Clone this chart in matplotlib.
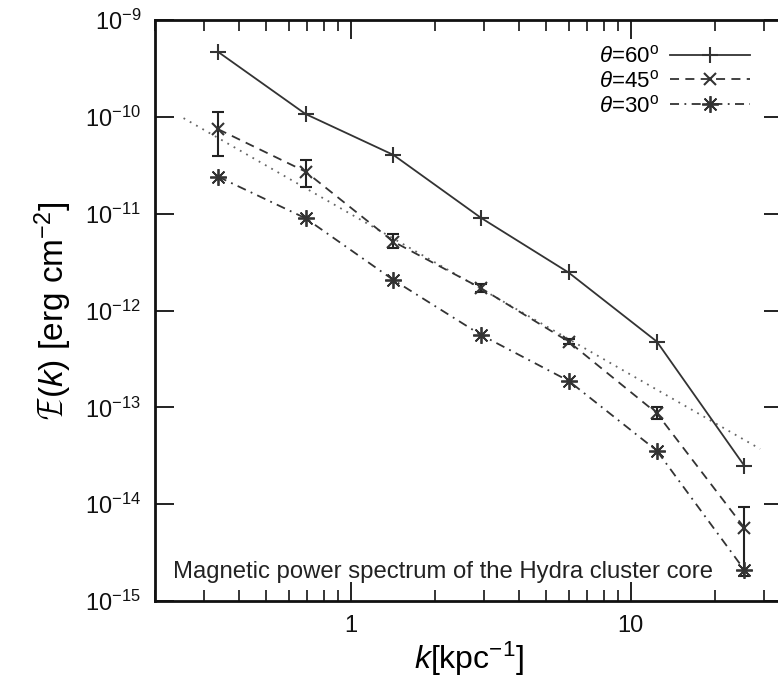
import matplotlib
matplotlib.use("Agg")
import matplotlib.pyplot as plt
import matplotlib.ticker as ticker
import numpy as np

plt.rcParams['font.family'] = 'Liberation Sans'
plt.rcParams['mathtext.fontset'] = 'custom'
plt.rcParams['mathtext.rm'] = 'Liberation Sans'
plt.rcParams['mathtext.it'] = 'Liberation Sans:italic'
plt.rcParams['axes.unicode_minus'] = False

# волновые числа k [kpc^-1]
k = [0.336, 0.69, 1.42, 2.92, 6.0, 12.4, 25.5]

# спектры для трёх углов
E60 = [4.69e-10, 1.07e-10, 4.05e-11, 9.06e-12, 2.47e-12, 4.78e-13, 2.48e-14]
E45 = [7.46e-11, 2.72e-11, 5.15e-12, 1.70e-12, 4.78e-13, 8.69e-14, 5.68e-15]
E30 = [2.41e-11, 8.97e-12, 2.07e-12, 5.60e-13, 1.88e-13, 3.57e-14, 2.09e-15]

# границы погрешностей для 45 градусов
E45_hi = [1.13e-10, 3.60e-11, 6.18e-12, 1.86e-12, 5.10e-13, 9.98e-14, 9.42e-15]
E45_lo = [3.96e-11, 1.90e-11, 4.43e-12, 1.54e-12, 4.48e-13, 7.58e-14, 1.81e-15]

# колмогоровская прямая (концы отрезка)
k_kol = [0.253, 29.0]
E_kol = [9.7e-11, 3.72e-14]

labels = [r'$\mathit{\theta}$=60$^{\rm o}$', r'$\mathit{\theta}$=45$^{\rm o}$',
          r'$\mathit{\theta}$=30$^{\rm o}$']

col = '#333333'

fig = plt.figure(figsize=(7.78, 6.86), dpi=100)
ax = fig.add_axes([0.1992, 0.1239, 0.8072, 0.8469])

ax.set_xscale('log')
ax.set_yscale('log')
ax.set_xlim(0.2, 35)
ax.set_ylim(1e-15, 1e-9)

ax.plot(k_kol, E_kol, linestyle=(0, (1, 3)), color='#666666', linewidth=1.3)

ax.plot(k, E60, color=col, linestyle='-', linewidth=1.3, marker='+',
        markersize=12, markeredgewidth=1.5, label=labels[0])

err = [np.array(E45) - np.array(E45_lo), np.array(E45_hi) - np.array(E45)]
ax.errorbar(k, E45, yerr=err, fmt='none', ecolor='#222222', elinewidth=1.5,
            capsize=4.5, capthick=1.5)
ax.plot(k, E45, color=col, linestyle=(0, (5, 3.5)), linewidth=1.3, marker='x',
        markersize=9, markeredgewidth=1.5, label=labels[1])

ax.plot(k, E30, color=col, linestyle=(0, (5, 3, 1, 3)), linewidth=1.3,
        marker=(8, 2, 0), markersize=12, markeredgewidth=1.3, label=labels[2])

for s in ax.spines.values():
    s.set_linewidth(2)
    s.set_color('#111111')

ax.tick_params(which='major', direction='in', length=14, width=1.3,
               top=True, right=True, labelsize=17, pad=10, colors='#111111')
ax.tick_params(which='minor', direction='in', length=8, width=1.1,
               top=True, right=True)
ax.yaxis.set_minor_locator(ticker.NullLocator())
ax.xaxis.set_major_locator(ticker.LogLocator(base=10))
ax.xaxis.set_major_formatter(ticker.FuncFormatter(lambda v, p: f"{v:g}"))
ax.xaxis.set_minor_formatter(ticker.NullFormatter())
ax.yaxis.set_major_locator(ticker.LogLocator(base=10, numticks=10))

ax.set_xlabel(r'$\mathit{k}$[kpc$^{\mathregular{-1}}$]', fontsize=23, labelpad=2)
ax.set_ylabel(r'$\mathcal{E}(\mathit{k})$ [erg cm$^{\mathregular{-2}}$]', fontsize=24,
              labelpad=8)

ax.text(0.028, 0.05, 'Magnetic power spectrum of the Hydra cluster core',
        transform=ax.transAxes, ha='left', va='center', fontsize=17.2,
        color='#222222')

ax.legend(loc='upper right', bbox_to_anchor=(0.947, 0.956), frameon=False,
          markerfirst=False, fontsize=16, handlelength=3.6, handletextpad=0.5,
          labelspacing=0.12, borderpad=0, borderaxespad=0)

fig.savefig('out.png', dpi=100)
